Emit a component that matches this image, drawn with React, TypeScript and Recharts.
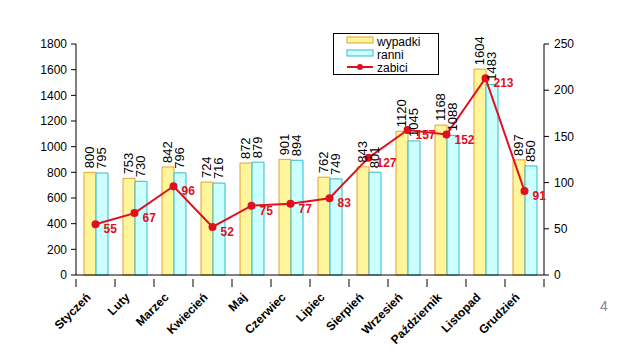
import React from "react";
import {
  ComposedChart,
  Bar,
  Line,
  XAxis,
  YAxis,
  LabelList,
} from "recharts";

const months = [
  "Styczeń", "Luty", "Marzec", "Kwiecień", "Maj", "Czerwiec",
  "Lipiec", "Sierpień", "Wrzesień", "Październik", "Listopad", "Grudzień",
];
const wypadki = [800, 753, 842, 724, 872, 901, 762, 843, 1120, 1168, 1604, 897];
const ranni = [795, 730, 796, 716, 879, 894, 749, 801, 1045, 1088, 1483, 850];
const zabici = [55, 67, 96, 52, 75, 77, 83, 127, 157, 152, 213, 91];
const leftTicks = [0, 200, 400, 600, 800, 1000, 1200, 1400, 1600, 1800];
const rightTicks = [0, 50, 100, 150, 200, 250];

const data = months.map((m, i) => ({
  month: m,
  wypadki: wypadki[i],
  ranni: ranni[i],
  zabici: zabici[i],
}));

const FONT = "Arial, 'Liberation Sans', sans-serif";
const YELLOW = "#FFF59A";
const YELLOW_EDGE = "#E8A030";
const CYAN = "#CCFFFF";
const CYAN_EDGE = "#33BBCC";
const RED = "#E0101E";

const W = 620;
const H = 357;
const PLOT_L = 76;
const PLOT_R = 544;
const BAND = (PLOT_R - PLOT_L) / months.length;

function MonthTick(props: any) {
  const { x, y, payload } = props;
  const left = x - BAND / 2;
  const ax = x - 4;
  const ay = y + 15;
  return (
    <g>
      <line x1={left} y1={y - 4} x2={left} y2={y + 4} stroke="#000" />
      {payload.index === months.length - 1 && (
        <line x1={left + BAND} y1={y - 4} x2={left + BAND} y2={y + 4} stroke="#000" />
      )}
      <text
        x={ax}
        y={ay}
        textAnchor="end"
        transform={`rotate(-45 ${ax} ${ay})`}
        fontSize={12}
        fontWeight="bold"
        fontFamily={FONT}
        fill="#000"
      >
        {payload.value}
      </text>
    </g>
  );
}

function BarValue(props: any) {
  const { x, y, width, value } = props;
  const cx = x + width / 2;
  const cy = y - 4;
  return (
    <text
      x={cx}
      y={cy}
      transform={`rotate(-90 ${cx} ${cy})`}
      textAnchor="start"
      dominantBaseline="central"
      fontSize={13}
      fontFamily={FONT}
      fill="#000"
    >
      {value}
    </text>
  );
}

function KilledValue(props: any) {
  const { x, y, value } = props;
  return (
    <text
      x={x + 8}
      y={y + 9}
      fontSize={12}
      fontWeight="bold"
      fontFamily={FONT}
      fill={RED}
    >
      {value}
    </text>
  );
}

function LegendBox() {
  const row = (i: number, label: string, swatch: React.ReactNode) => (
    <g key={label} transform={`translate(0 ${i * 13})`}>
      {swatch}
      <text x={30} y={11} fontSize={12} fontFamily={FONT} fill="#000">
        {label}
      </text>
    </g>
  );
  return (
    <svg width={106} height={42} style={{ display: "block" }}>
      <rect x={0.5} y={0.5} width={105} height={41} fill="#fff" stroke="#000" />
      <g transform="translate(14 2)">
        {row(0, "wypadki", <rect x={0} y={2} width={26} height={6} fill={YELLOW} stroke={YELLOW_EDGE} />)}
        {row(1, "ranni", <rect x={0} y={2} width={26} height={6} fill={CYAN} stroke={CYAN_EDGE} />)}
        {row(2, "zabici", (
          <g>
            <line x1={0} y1={6} x2={26} y2={6} stroke={RED} strokeWidth={2} />
            <circle cx={13} cy={6} r={3} fill={RED} />
          </g>
        ))}
      </g>
    </svg>
  );
}

export default function App() {
  return (
    <div style={{ position: "absolute", left: 0, top: 0, width: W, height: H, background: "#fff" }}>
      <ComposedChart
        width={W}
        height={H}
        data={data}
        margin={{ top: 44, right: 0, bottom: 0, left: 0 }}
        barGap={0}
        barSize={12}
      >
        <XAxis
          dataKey="month"
          interval={0}
          height={82}
          tickLine={false}
          axisLine={{ stroke: "#000" }}
          tick={<MonthTick />}
        />
        <YAxis
          yAxisId="left"
          width={PLOT_L}
          domain={[0, 1800]}
          ticks={leftTicks}
          interval={0}
          axisLine={{ stroke: "#000" }}
          tickLine={{ stroke: "#000" }}
          tickSize={5}
          tickMargin={4}
          tick={{ fontSize: 12, fontFamily: FONT, fill: "#000" }}
        />
        <YAxis
          yAxisId="right"
          orientation="right"
          width={W - PLOT_R}
          domain={[0, 250]}
          ticks={rightTicks}
          interval={0}
          axisLine={{ stroke: "#000" }}
          tickLine={{ stroke: "#000" }}
          tickSize={5}
          tickMargin={5}
          tick={{ fontSize: 12, fontFamily: FONT, fill: "#000" }}
        />
        <Bar
          yAxisId="left"
          dataKey="wypadki"
          fill={YELLOW}
          stroke={YELLOW_EDGE}
          strokeWidth={1}
          isAnimationActive={false}
        >
          <LabelList dataKey="wypadki" content={<BarValue />} />
        </Bar>
        <Bar
          yAxisId="left"
          dataKey="ranni"
          fill={CYAN}
          stroke={CYAN_EDGE}
          strokeWidth={1}
          isAnimationActive={false}
        >
          <LabelList dataKey="ranni" content={<BarValue />} />
        </Bar>
        <Line
          yAxisId="right"
          dataKey="zabici"
          stroke={RED}
          strokeWidth={2}
          dot={{ r: 3, fill: RED, stroke: RED }}
          isAnimationActive={false}
        >
          <LabelList dataKey="zabici" content={<KilledValue />} />
        </Line>
      </ComposedChart>
      <div style={{ position: "absolute", left: 333, top: 33 }}>
        <LegendBox />
      </div>
      <div
        style={{
          position: "absolute",
          left: 600,
          top: 298,
          fontSize: 14,
          fontFamily: FONT,
          color: "#888",
        }}
      >
        4
      </div>
    </div>
  );
}
